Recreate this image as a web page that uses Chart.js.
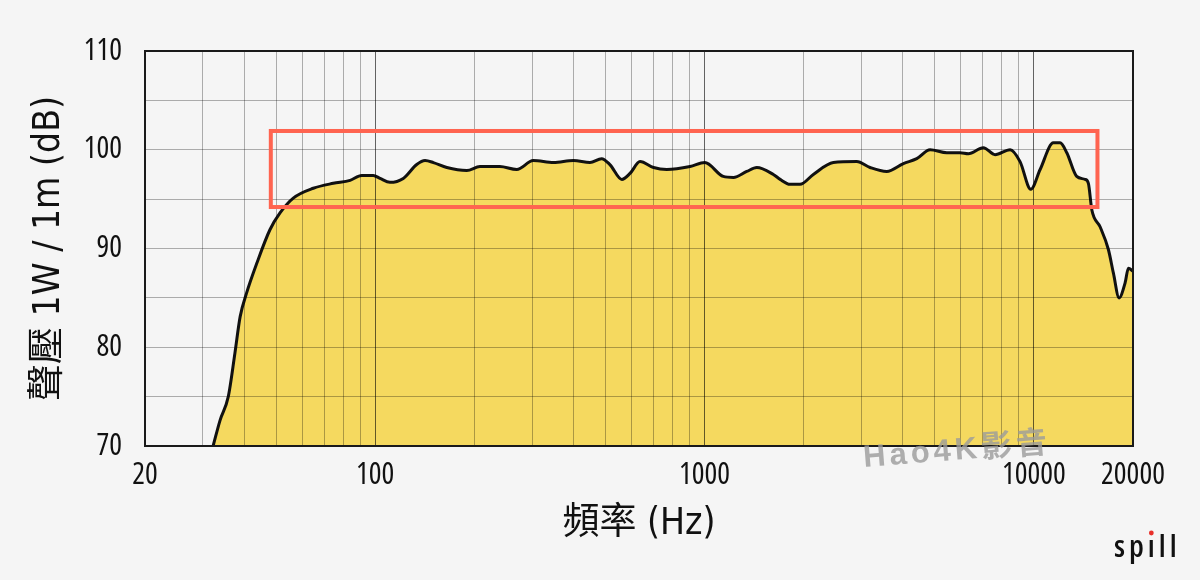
<!DOCTYPE html>
<html><head><meta charset="utf-8">
<script src="https://cdn.jsdelivr.net/npm/chart.js@4/dist/chart.umd.min.js"></script>
<style>html,body{margin:0;padding:0;background:#f5f5f5;}#wrap{width:1200px;height:580px;}</style>
</head><body><div id="wrap"><canvas id="c" width="1200" height="580"></canvas></div>
<script>
const frequencies = [32.2,33.8,35.8,37.5,38.9,40.7,43.7,47.9,51.4,56.4,64.9,74.6,83.9,91,98.7,103.4,110.9,121.7,133.7,141.7,150.2,165,189.7,208,239,269,302,348,400,449,487,516,561,594,637,700,768,904,1002,1140,1224,1343,1441,1618,1697,1818,1949,2140,2461,2898,3181,3574,4017,4410,4842,5441,5970,6325,7026,7626,8472,9080,9788,10448,11463,12012,12590,13492,14303,14640,15000,15889,16838,17441,18150,18920,19370,20000];
const splValues = [70.0,72.6,75.0,79.4,83.1,85.5,88.5,91.9,93.6,95.1,96.1,96.6,96.9,97.4,97.4,97.1,96.7,97.1,98.5,98.9,98.7,98.2,97.9,98.3,98.3,98.0,98.9,98.7,98.9,98.7,99.1,98.5,97.0,97.6,98.8,98.2,98.0,98.3,98.7,97.3,97.2,97.8,98.2,97.5,97.0,96.5,96.5,97.5,98.7,98.8,98.2,97.8,98.6,99.1,100.0,99.7,99.7,99.6,100.2,99.5,100.0,98.8,96.0,98.0,100.7,100.7,99.7,97.3,97.0,96.6,93.9,92.2,89.9,87.5,85.0,86.5,88.0,87.7];
const xGridValues = [20,30,40,50,60,70,80,90,100,200,300,400,500,600,700,800,900,1000,2000,3000,4000,5000,6000,7000,8000,9000,10000,20000];
const xTickLabels = [20,100,1000,10000,20000];
const decadeLines = [100,1000,10000];
const yTickLabels = [70,80,90,100,110];
const highlightFreqRange = [48.2, 15600];
const highlightDbRange = [94.2, 101.9];
const xTitle = '頻率 (Hz)';
const yTitle = '聲壓 1W / 1m (dB)';
const watermarkText = 'Hao4K影音';
const logoText = 'spill';

const TICK_FAM = "'Open Sans','Noto Sans CJK TC',sans-serif";
const TITLE_FAM = "'DejaVu Sans Condensed','Noto Sans CJK TC',sans-serif";

const points = frequencies.map((f, i) => ({x: f, y: splValues[i]}));

const extras = {
  id: 'extras',
  beforeDraw(chart) {
    const ctx = chart.ctx;
    ctx.save();
    ctx.fillStyle = '#f5f5f5';
    ctx.fillRect(0, 0, chart.width, chart.height);
    ctx.restore();
  },
  afterDraw(chart) {
    const ctx = chart.ctx;
    const a = chart.chartArea;
    const xs = chart.scales.x, ys = chart.scales.y;
    ctx.save();
    // frame
    ctx.strokeStyle = '#1a1a1a';
    ctx.lineWidth = 2;
    ctx.strokeRect(Math.round(a.left), Math.round(a.top), Math.round(a.right - a.left), Math.round(a.bottom - a.top));
    // highlight box
    const x1 = xs.getPixelForValue(highlightFreqRange[0]);
    const x2 = xs.getPixelForValue(highlightFreqRange[1]);
    const y1 = ys.getPixelForValue(highlightDbRange[1]);
    const y2 = ys.getPixelForValue(highlightDbRange[0]);
    ctx.strokeStyle = '#ff6450';
    ctx.lineWidth = 4;
    ctx.strokeRect(x1, y1, x2 - x1, y2 - y1);
    // watermark
    ctx.save();
    ctx.translate(864, 467);
    ctx.rotate(-4.5 * Math.PI / 180);
    ctx.font = "bold 31px 'Liberation Sans','Noto Sans CJK TC',sans-serif";
    ctx.letterSpacing = '4px';
    ctx.fillStyle = 'rgba(155,155,155,0.8)';
    ctx.textBaseline = 'alphabetic';
    ctx.fillText(watermarkText, 0, 0);
    ctx.restore();
    // logo
    ctx.font = "condensed 600 31px 'Open Sans',sans-serif";
    ctx.fillStyle = '#111';
    ctx.textBaseline = 'alphabetic';
    ctx.letterSpacing = '4px';
    const parts = [logoText.slice(0, 2), '\u0131', logoText.slice(3)];
    let lx = 1114;
    const ly = 557;
    ctx.fillText(parts[0], lx, ly);
    lx += ctx.measureText(parts[0]).width;
    const iw = ctx.measureText(parts[1]).width;
    ctx.fillText(parts[1], lx, ly);
    ctx.fillStyle = '#e8302a';
    ctx.beginPath();
    ctx.arc(lx + (iw - 4) / 2, ly - 24, 2.4, 0, Math.PI * 2);
    ctx.fill();
    ctx.fillStyle = '#111';
    lx += iw;
    ctx.fillText(parts[2], lx, ly);
    ctx.restore();
  }
};

new Chart(document.getElementById('c'), {
  type: 'line',
  data: {
    datasets: [{
      data: points,
      borderColor: '#111111',
      borderWidth: 3,
      backgroundColor: '#f5d95f',
      fill: 'start',
      pointRadius: 0,
      cubicInterpolationMode: 'monotone'
    }]
  },
  options: {
    responsive: false,
    animation: false,
    devicePixelRatio: 1,
    layout: {padding: {top: 51, right: 67, left: 0, bottom: 0}},
    plugins: {legend: {display: false}, tooltip: {enabled: false}},
    scales: {
      x: {
        type: 'logarithmic',
        min: 20, max: 20000,
        afterBuildTicks: (axis) => { axis.ticks = xGridValues.map(v => ({value: v})); },
        afterFit: (axis) => { axis.height = 134; },
        grid: {
          z: 1,
          drawTicks: false,
          lineWidth: 1,
          color: (c) => decadeLines.includes(c.tick && c.tick.value) ? 'rgba(0,0,0,0.6)' : 'rgba(0,0,0,0.3)'
        },
        border: {display: false},
        ticks: {
          autoSkip: false, maxRotation: 0, minRotation: 0,
          padding: 11,
          color: '#111',
          font: {family: TICK_FAM, size: 30, weight: 'condensed'},
          callback: (v) => xTickLabels.includes(v) ? String(v) : ''
        },
        title: {
          display: true, text: xTitle, color: '#111',
          font: {family: TITLE_FAM, size: 37, lineHeight: 1.2},
          padding: {top: 0, bottom: 33}
        }
      },
      y: {
        min: 70, max: 110,
        afterFit: (axis) => { axis.width = 145; },
        grid: {z: 1, drawTicks: false, lineWidth: 1, color: 'rgba(0,0,0,0.3)'},
        border: {display: false},
        ticks: {
          stepSize: 5,
          padding: 23,
          color: '#111',
          font: {family: TICK_FAM, size: 30, weight: 'condensed'},
          callback: (v) => yTickLabels.includes(v) ? String(v) : ''
        },
        title: {
          display: true, text: yTitle, color: '#111',
          font: {family: TITLE_FAM, size: 37, lineHeight: 1.2},
          padding: {top: 27, bottom: 0}
        }
      }
    }
  },
  plugins: [extras]
});
</script>
</body></html>
